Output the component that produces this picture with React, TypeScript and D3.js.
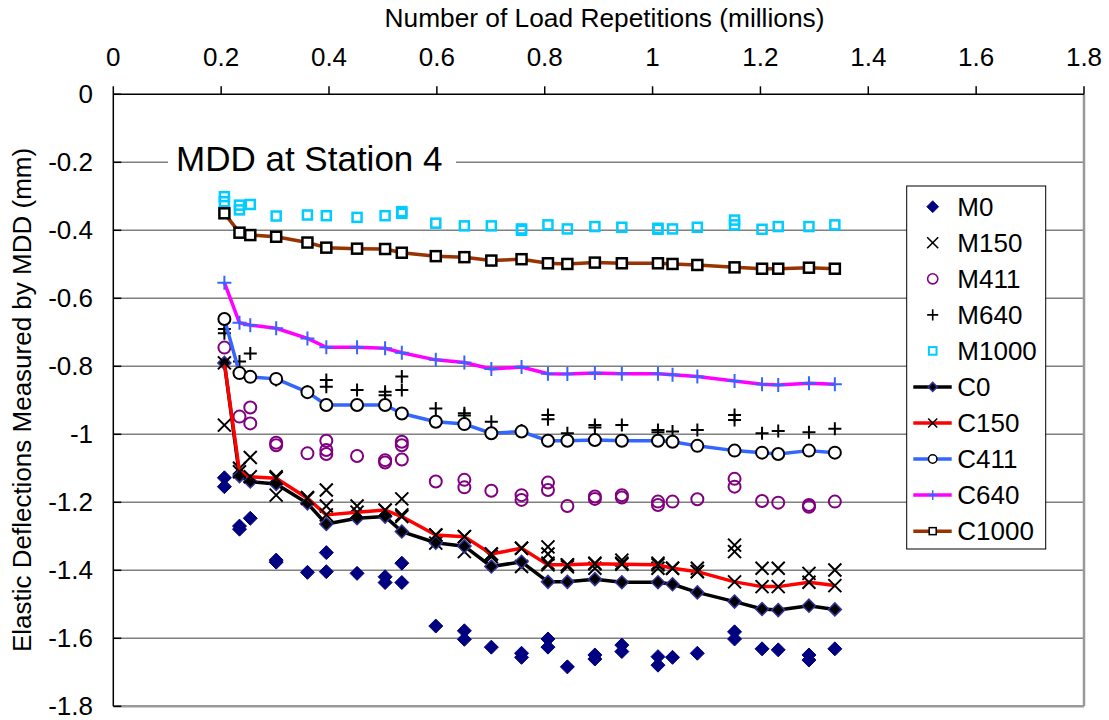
import React from 'react';
import * as d3 from 'd3';

// x positions (millions of load repetitions)
const reps = [0.206, 0.234, 0.254, 0.302, 0.360, 0.395, 0.452, 0.504, 0.535, 0.598, 0.651, 0.701, 0.757, 0.806, 0.842, 0.893, 0.943, 1.010, 1.037, 1.083, 1.152, 1.203, 1.233, 1.290, 1.338];

// computed (line) series
const C0 = [-0.79, -1.123, -1.139, -1.146, -1.203, -1.264, -1.247, -1.242, -1.286, -1.319, -1.329, -1.389, -1.375, -1.434, -1.434, -1.426, -1.435, -1.435, -1.441, -1.465, -1.492, -1.514, -1.517, -1.504, -1.515];
const C150 = [-0.79, -1.110, -1.125, -1.129, -1.188, -1.237, -1.229, -1.223, -1.242, -1.296, -1.301, -1.352, -1.335, -1.384, -1.384, -1.381, -1.382, -1.384, -1.394, -1.404, -1.434, -1.448, -1.448, -1.435, -1.445];
const C411 = [-0.661, -0.820, -0.831, -0.837, -0.876, -0.914, -0.914, -0.914, -0.939, -0.963, -0.970, -0.997, -0.992, -1.019, -1.019, -1.017, -1.019, -1.019, -1.022, -1.034, -1.048, -1.054, -1.058, -1.048, -1.054];
const C640 = [-0.554, -0.672, -0.679, -0.688, -0.718, -0.744, -0.744, -0.747, -0.760, -0.781, -0.789, -0.808, -0.802, -0.822, -0.823, -0.820, -0.822, -0.822, -0.825, -0.830, -0.843, -0.853, -0.855, -0.850, -0.853];
const C1000 = [-0.350, -0.407, -0.414, -0.419, -0.436, -0.451, -0.454, -0.455, -0.466, -0.476, -0.479, -0.489, -0.485, -0.497, -0.499, -0.495, -0.497, -0.497, -0.499, -0.502, -0.509, -0.513, -0.513, -0.510, -0.513];

// measured (scatter) series: [index into reps, value]
const M0: [number, number][] = [[0, -1.128], [0, -1.154], [1, -1.279], [1, -1.27], [2, -1.247], [3, -1.376], [3, -1.37], [4, -1.406], [5, -1.348], [5, -1.404], [6, -1.409], [7, -1.419], [7, -1.436], [8, -1.436], [8, -1.379], [9, -1.564], [10, -1.578], [10, -1.603], [11, -1.626], [12, -1.644], [12, -1.656], [13, -1.602], [13, -1.626], [14, -1.684], [15, -1.649], [15, -1.661], [16, -1.620], [16, -1.639], [17, -1.654], [17, -1.679], [18, -1.656], [19, -1.644], [20, -1.581], [20, -1.602], [21, -1.631], [22, -1.634], [23, -1.649], [23, -1.664], [24, -1.631]];
const M150: [number, number][] = [[0, -0.973], [1, -1.100], [2, -1.068], [3, -1.125], [3, -1.179], [4, -1.186], [5, -1.164], [5, -1.211], [6, -1.211], [7, -1.223], [8, -1.190], [8, -1.237], [9, -1.296], [9, -1.32], [10, -1.301], [10, -1.345], [11, -1.352], [11, -1.36], [12, -1.335], [12, -1.389], [13, -1.331], [13, -1.352], [13, -1.379], [14, -1.384], [14, -1.39], [15, -1.379], [15, -1.394], [16, -1.370], [16, -1.379], [17, -1.379], [17, -1.394], [18, -1.394], [19, -1.394], [19, -1.404], [20, -1.326], [20, -1.345], [21, -1.394], [22, -1.394], [23, -1.409], [24, -1.399]];
const M411: [number, number][] = [[0, -0.745], [1, -0.948], [2, -0.921], [2, -0.968], [3, -1.025], [3, -1.032], [4, -1.056], [5, -1.019], [5, -1.046], [5, -1.058], [6, -1.064], [7, -1.076], [7, -1.083], [8, -1.022], [8, -1.032], [8, -1.074], [9, -1.139], [10, -1.134], [10, -1.156], [11, -1.166], [12, -1.179], [12, -1.193], [13, -1.142], [13, -1.164], [14, -1.211], [15, -1.183], [15, -1.19], [16, -1.179], [16, -1.186], [17, -1.198], [17, -1.208], [18, -1.198], [19, -1.191], [20, -1.131], [20, -1.154], [21, -1.196], [22, -1.201], [23, -1.208], [23, -1.213], [24, -1.198]];
const M640: [number, number][] = [[0, -0.703], [0, -0.69], [1, -0.786], [2, -0.762], [3, -0.84], [4, -0.875], [5, -0.84], [5, -0.86], [6, -0.87], [7, -0.875], [7, -0.885], [8, -0.83], [8, -0.87], [9, -0.924], [10, -0.938], [10, -0.945], [11, -0.963], [12, -0.989], [13, -0.943], [13, -0.956], [14, -0.997], [15, -0.973], [15, -0.98], [16, -0.973], [17, -0.987], [17, -0.994], [18, -0.992], [19, -0.987], [20, -0.943], [20, -0.958], [21, -0.997], [22, -0.990], [23, -0.994], [24, -0.984]];
const M1000: [number, number][] = [[0, -0.301], [0, -0.316], [1, -0.326], [1, -0.340], [2, -0.324], [3, -0.358], [4, -0.355], [5, -0.357], [6, -0.362], [7, -0.357], [8, -0.345], [8, -0.35], [9, -0.379], [10, -0.387], [11, -0.387], [12, -0.396], [12, -0.40], [13, -0.384], [14, -0.396], [15, -0.389], [16, -0.391], [17, -0.394], [17, -0.397], [18, -0.396], [19, -0.391], [20, -0.370], [20, -0.384], [21, -0.397], [22, -0.389], [23, -0.389], [24, -0.384]];

const xTickValues = [0, 0.2, 0.4, 0.6, 0.8, 1, 1.2, 1.4, 1.6, 1.8];
const xTickLabels = ['0', '0.2', '0.4', '0.6', '0.8', '1', '1.2', '1.4', '1.6', '1.8'];
const yTickValues = [0, -0.2, -0.4, -0.6, -0.8, -1, -1.2, -1.4, -1.6, -1.8];
const yTickLabels = ['0', '-0.2', '-0.4', '-0.6', '-0.8', '-1', '-1.2', '-1.4', '-1.6', '-1.8'];

const FONT = '"Liberation Sans", Arial, Helvetica, sans-serif';

type MarkerStyle = { shape: string; size: number; stroke: string; fill: string; sw: number };

function Marker({ cx, cy, m }: { cx: number; cy: number; m: MarkerStyle }) {
  const s = m.size;
  if (m.shape === 'diamond') {
    return <path d={`M${cx},${cy - s}L${cx + s},${cy}L${cx},${cy + s}L${cx - s},${cy}Z`} fill={m.fill} stroke={m.stroke} strokeWidth={m.sw} />;
  }
  if (m.shape === 'x') {
    return <path d={`M${cx - s},${cy - s}L${cx + s},${cy + s}M${cx - s},${cy + s}L${cx + s},${cy - s}`} stroke={m.stroke} strokeWidth={m.sw} fill="none" />;
  }
  if (m.shape === 'plus') {
    return <path d={`M${cx - s},${cy}L${cx + s},${cy}M${cx},${cy - s}L${cx},${cy + s}`} stroke={m.stroke} strokeWidth={m.sw} fill="none" />;
  }
  if (m.shape === 'circle') {
    return <circle cx={cx} cy={cy} r={s} stroke={m.stroke} strokeWidth={m.sw} fill={m.fill} />;
  }
  return <rect x={cx - s} y={cy - s} width={2 * s} height={2 * s} stroke={m.stroke} strokeWidth={m.sw} fill={m.fill} />;
}

const mStyles: Record<string, MarkerStyle> = {
  M0: { shape: 'diamond', size: 7, stroke: '#000080', fill: '#000080', sw: 1 },
  M150: { shape: 'x', size: 6.5, stroke: '#000', fill: 'none', sw: 2 },
  M411: { shape: 'circle', size: 6, stroke: '#800080', fill: 'none', sw: 2 },
  M640: { shape: 'plus', size: 6.5, stroke: '#000', fill: 'none', sw: 2 },
  M1000: { shape: 'square', size: 4.5, stroke: '#00ccff', fill: 'none', sw: 2.5 },
};

const cStyles: Record<string, { color: string; m: MarkerStyle }> = {
  C0: { color: '#000000', m: { shape: 'diamond', size: 6.5, stroke: '#333399', fill: '#000', sw: 1.5 } },
  C150: { color: '#ff0000', m: { shape: 'x', size: 6.5, stroke: '#000', fill: 'none', sw: 2 } },
  C411: { color: '#3366ff', m: { shape: 'circle', size: 6, stroke: '#000', fill: '#fff', sw: 2 } },
  C640: { color: '#ff00ff', m: { shape: 'plus', size: 7, stroke: '#3366ff', fill: 'none', sw: 2 } },
  C1000: { color: '#993300', m: { shape: 'square', size: 5, stroke: '#000', fill: '#fff', sw: 2.5 } },
};

const measured: [string, [number, number][]][] = [['M0', M0], ['M150', M150], ['M411', M411], ['M640', M640], ['M1000', M1000]];
const computed: [string, number[]][] = [['C0', C0], ['C150', C150], ['C411', C411], ['C640', C640], ['C1000', C1000]];

export default function App() {
  const W = 1109, H = 720;
  const left = 113.3, right = 1084, top = 94.3, bottom = 706.3;
  const x = d3.scaleLinear().domain([0, 1.8]).range([left, right]);
  const y = d3.scaleLinear().domain([0, -1.8]).range([top, bottom]);
  const line = d3.line<number>().x((_, i) => x(reps[i])).y((d) => y(d));

  const legendX = 906.7, legendY = 186, legendW = 139, legendH = 363;
  const legendItems = [...measured.map((m) => m[0]), ...computed.map((c) => c[0])];

  return (
    <svg width={W} height={H} style={{ position: 'absolute', left: 0, top: 0, background: '#fff' }} fontFamily={FONT}>
      <rect x={0} y={0} width={W} height={H} fill="#fff" />
      {/* grid */}
      {yTickValues.slice(1, -1).map((v) => (
        <line key={v} x1={left} x2={right} y1={y(v)} y2={y(v)} stroke="#808080" strokeWidth={1.5} />
      ))}
      {/* frame */}
      <line x1={right} x2={right} y1={top} y2={bottom} stroke="#999" strokeWidth={2.5} />
      <line x1={left} x2={right} y1={bottom} y2={bottom} stroke="#999" strokeWidth={2.5} />
      <line x1={left} x2={right} y1={top} y2={top} stroke="#000" strokeWidth={1.5} />
      <line x1={left} x2={left} y1={top} y2={bottom} stroke="#000" strokeWidth={1.5} />
      {xTickValues.map((v) => (
        <line key={v} x1={x(v)} x2={x(v)} y1={top - 8} y2={top} stroke="#000" strokeWidth={1.5} />
      ))}
      {yTickValues.map((v) => (
        <line key={v} x1={left} x2={left + 8} y1={y(v)} y2={y(v)} stroke="#000" strokeWidth={1.5} />
      ))}
      {/* tick labels */}
      {xTickValues.map((v, i) => (
        <text key={v} x={x(v)} y={57} textAnchor="middle" dominantBaseline="central" fontSize={26}>{xTickLabels[i]}</text>
      ))}
      {yTickValues.map((v, i) => (
        <text key={v} x={93} y={y(v)} textAnchor="end" dominantBaseline="central" fontSize={26}>{yTickLabels[i]}</text>
      ))}
      {/* axis titles */}
      <text x={604.5} y={18} textAnchor="middle" dominantBaseline="central" fontSize={26.3}>Number of Load Repetitions (millions)</text>
      <text transform={`translate(22,400) rotate(-90)`} textAnchor="middle" dominantBaseline="central" fontSize={26}>Elastic Deflections Measured by MDD (mm)</text>
      {/* chart title */}
      <rect x={168} y={140} width={288} height={46} fill="#fff" />
      <text x={176} y={171} fontSize={35}>MDD at Station 4</text>
      {/* measured points */}
      {measured.map(([name, pts]) => (
        <g key={name}>
          {pts.map(([i, v], k) => (
            <Marker key={k} cx={x(reps[i])} cy={y(v)} m={mStyles[name]} />
          ))}
        </g>
      ))}
      {/* computed lines */}
      {computed.map(([name, vals]) => (
        <g key={name}>
          <path d={line(vals) || ''} fill="none" stroke={cStyles[name].color} strokeWidth={3.5} strokeLinejoin="round" />
          {vals.map((v, i) => (
            <Marker key={i} cx={x(reps[i])} cy={y(v)} m={cStyles[name].m} />
          ))}
        </g>
      ))}
      {/* legend */}
      <rect x={legendX} y={legendY} width={legendW} height={legendH} fill="#fff" stroke="#000" strokeWidth={1} />
      {legendItems.map((name, i) => {
        const cy = 206.7 + i * 36.05;
        const cx = 932.7;
        const isC = name.startsWith('C');
        return (
          <g key={name}>
            {isC && <line x1={913.3} x2={951.7} y1={cy} y2={cy} stroke={cStyles[name].color} strokeWidth={3.5} />}
            <Marker cx={cx} cy={cy} m={isC ? { ...cStyles[name].m, size: cStyles[name].m.size * 0.7, sw: 1.5 } : { ...mStyles[name], size: mStyles[name].size * 0.85, sw: mStyles[name].sw * 0.8 }} />
            <text x={957.3} y={cy} dominantBaseline="central" fontSize={26}>{name}</text>
          </g>
        );
      })}
    </svg>
  );
}
